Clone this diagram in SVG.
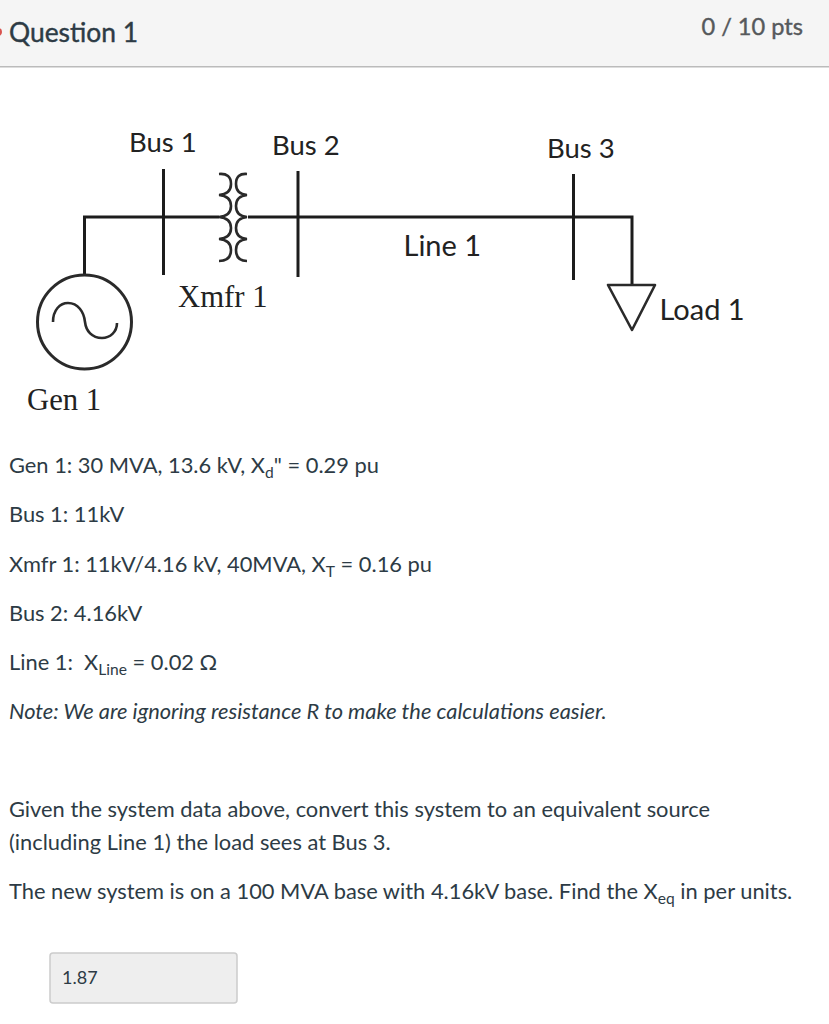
<svg xmlns="http://www.w3.org/2000/svg" width="829" height="1024" viewBox="0 0 829 1024">
<style>
text{font-family:Lato,"Open Sans",sans-serif;fill:#2d3b45}
.b{font-size:21.85px}
.d{font-family:Lato,sans-serif;font-size:29px;fill:#222}
.bl{font-size:27.5px}
.s{font-family:"Liberation Serif",serif;font-size:30.700px;fill:#222}
.w{fill:none;stroke:#1c1c1c;stroke-width:3}
.t{fill:none;stroke:#2a2a2a;stroke-width:2.600}
.sub{font-size:15.600px}
</style>
<rect width="829" height="1024" fill="#fff"/>
<g id="header">
<rect width="829" height="66" fill="#f5f5f5"/>
<rect y="66" width="829" height="1.500" fill="#bbb"/>
<circle cx="-2" cy="32" r="4" fill="#d9534f"/>
<text x="9" y="42" style="font-size:26.400px;stroke:#2d3b45;stroke-width:.4">Question 1</text>
<text x="803" y="35" text-anchor="end" style="font-size:23.600px;fill:#56595c;stroke:#56595c;stroke-width:.4">0 / 10 pts</text>
</g>
<g id="connectors">
<path class="w" d="M84.500 275V217H219M248 217H632V285"/>
</g>
<g id="bus1"><path class="w" d="M163.500 169V275"/><text class="d bl" x="129" y="152">Bus 1</text></g>
<g id="bus2"><path class="w" d="M298 171V277"/><text class="d bl" x="272" y="155">Bus 2</text></g>
<g id="bus3"><path class="w" d="M573.500 174V280"/><text class="d bl" x="547" y="158">Bus 3</text></g>
<g id="line1"><text class="d" x="403.500" y="256">Line 1</text></g>
<g id="xmfr1">
<path class="t" d="M219 174Q231 173 231 184Q231 194 219 195Q231 196 231 206Q231 216 219 217Q231 218 231 228Q231 238 219 239Q231 240 231 250Q231 261 219 261"/>
<path class="t" d="M247 174Q236 173 236 184Q236 194 247 195Q236 196 236 206Q236 216 247 217Q236 218 236 228Q236 238 247 239Q236 240 236 250Q236 261 247 261"/>
<text class="s" x="178" y="307">Xmfr 1</text>
</g>
<g id="gen1">
<circle cx="84.500" cy="322" r="47" fill="none" stroke="#2a2a2a" stroke-width="3"/>
<path class="t" d="M53 322C53 310 60 303 68 303C78 303 84 312 85 322C86 331 92 338 102 338C110 338 117 332 117 323"/>
<text class="s" x="27" y="410">Gen 1</text>
</g>
<g id="load1">
<path class="t" d="M608 285H655L632 330Z" stroke-linejoin="round"/>
<text class="d" x="659.500" y="320">Load 1</text>
</g>
<g id="question">
<text class="b" x="9" y="473">Gen 1: 30 MVA, 13.6 kV, X<tspan class="sub" dy="5">d</tspan><tspan dy="-5">" = 0.29 pu</tspan></text>
<text class="b" x="9" y="522">Bus 1: 11kV</text>
<text class="b" x="9" y="572">Xmfr 1: 11kV/4.16 kV, 40MVA, X<tspan class="sub" dy="5">T</tspan><tspan dy="-5"> = 0.16 pu</tspan></text>
<text class="b" x="9" y="621">Bus 2: 4.16kV</text>
<text class="b" x="9" y="670">Line 1: &#160;X<tspan class="sub" dy="5">Line</tspan><tspan dy="-5"> = 0.02 Ω</tspan></text>
<text class="b" x="9" y="719" font-style="italic">Note: We are ignoring resistance R to make the calculations easier.</text>
<text class="b" x="9" y="817">Given the system data above, convert this system to an equivalent source</text>
<text class="b" x="9" y="850">(including Line 1) the load sees at Bus 3.</text>
<text class="b" x="9" y="899">The new system is on a 100 MVA base with 4.16kV base. Find the X<tspan class="sub" dy="5">eq</tspan><tspan dy="-5"> in per units.</tspan></text>
</g>
<g id="answer">
<rect x="50" y="953" width="187" height="50" rx="3" fill="#eee" stroke="#ccc" stroke-width="1.500"/>
<text x="62" y="984" style="font-size:18px">1.87</text>
</g>
</svg>
